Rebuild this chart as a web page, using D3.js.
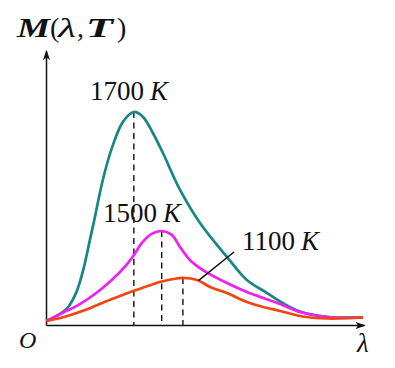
<!DOCTYPE html>
<html>
<head>
<meta charset="utf-8">
<script src="https://cdn.jsdelivr.net/npm/d3@7"></script>
<style>
  body { margin: 0; background: #fff; }
  text { font-family: "Liberation Serif", "Times New Roman", serif; fill: #111; }
</style>
</head>
<body>
<div id="container"></div>
<script>
const width = 395;
const height = 368;

// temperature labels, one per curve
const temps = ["1700", "1500", "1100"];
const colors = ["#168784", "#f21ef2", "#f4450f"];

// [lambda, M] samples
const curve1700 = [
  [0, 1.6], [0.37, 3.75], [0.69, 6.7], [0.95, 12.1], [1.16, 19.8], [1.37, 30.5],
  [1.51, 37.7], [1.79, 52.5], [2.10, 64.5], [2.42, 72.8], [2.76, 76.25], [3.05, 74.5],
  [3.36, 68.75], [3.68, 61.6], [4.22, 48.4], [4.85, 36.6], [5.70, 24.5], [6.33, 16.25],
  [6.97, 11.6], [7.38, 8.6], [8.01, 5.0], [8.86, 3.1], [10, 2.85]
];
const curve1500 = [
  [0, 1.6], [0.48, 4.4], [1.0, 7.3], [1.53, 11.25], [2.06, 16.25], [2.48, 21.0],
  [2.74, 24.8], [3.01, 29.4], [3.32, 32.7], [3.64, 33.75], [3.96, 32.3], [4.22, 28.0],
  [4.53, 23.4], [4.94, 19.8], [5.70, 15.2], [6.33, 12.0], [7.38, 7.7], [8.01, 4.8],
  [8.86, 3.0], [10, 2.85]
];
const curve1100 = [
  [0, 1.6], [0.58, 3.1], [1.22, 5.5], [1.85, 8.5], [2.38, 10.8], [2.74, 12.3],
  [3.22, 14.2], [3.64, 15.7], [4.06, 16.7], [4.31, 17.0], [4.76, 16.25], [5.17, 13.75],
  [5.70, 11.6], [6.33, 8.4], [6.97, 6.25], [7.38, 5.2], [8.01, 3.4], [8.86, 2.5],
  [10, 2.85]
];
const curves = [curve1700, curve1500, curve1100];

const svg = d3.select("#container")
  .append("svg")
  .attr("width", width)
  .attr("height", height);

const x = d3.scaleLinear().domain([0, 10]).range([46.5, 363]);
const y = d3.scaleLinear().domain([0, 100]).range([325.5, 45.5]);

// arrow marker for the axes
svg.append("defs").append("marker")
  .attr("id", "arrow")
  .attr("viewBox", "0 -5 10 10")
  .attr("refX", 9)
  .attr("refY", 0)
  .attr("markerUnits", "userSpaceOnUse")
  .attr("markerWidth", 10)
  .attr("markerHeight", 10)
  .attr("orient", "auto")
  .append("path")
  .attr("d", "M0,-3.6L10,0L0,3.6L2.5,0Z")
  .attr("fill", "#111");

// axes
svg.append("line")
  .attr("x1", x(0)).attr("y1", y(0))
  .attr("x2", x(10.05)).attr("y2", y(0))
  .attr("stroke", "#111").attr("stroke-width", 1.5)
  .attr("marker-end", "url(#arrow)");
svg.append("line")
  .attr("x1", x(0)).attr("y1", y(0))
  .attr("x2", x(0)).attr("y2", y(98))
  .attr("stroke", "#111").attr("stroke-width", 1.5)
  .attr("marker-end", "url(#arrow)");

// dashed lines from each peak down to the axis
const peaks = curves.map(c => d3.greatest(c, d => d[1]));
svg.selectAll(".drop")
  .data(peaks)
  .enter()
  .append("line")
  .attr("class", "drop")
  .attr("x1", d => x(d[0])).attr("x2", d => x(d[0]))
  .attr("y1", d => y(d[1])).attr("y2", y(0))
  .attr("stroke", "#111")
  .attr("stroke-width", 1.4)
  .attr("stroke-dasharray", "6,4.5");

const line = d3.line()
  .x(d => x(d[0]))
  .y(d => y(d[1]))
  .curve(d3.curveCatmullRom.alpha(0.5));

svg.selectAll(".curve")
  .data(curves)
  .enter()
  .append("path")
  .attr("class", "curve")
  .attr("d", line)
  .attr("fill", "none")
  .attr("stroke", (d, i) => colors[i])
  .attr("stroke-width", 2.7)
  .attr("stroke-linejoin", "round");

// temperature labels
const labelPos = [[90, 100], [103, 222], [242, 250]];
temps.forEach((t, i) => {
  const lab = svg.append("text")
    .attr("x", labelPos[i][0])
    .attr("y", labelPos[i][1])
    .attr("font-size", 27);
  lab.append("tspan").text(t);
  lab.append("tspan").attr("dx", 6).attr("font-style", "italic").text("K");
});

// leader line for 1100 K
svg.append("line")
  .attr("x1", x(4.8)).attr("y1", y(16))
  .attr("x2", 234).attr("y2", 252)
  .attr("stroke", "#111")
  .attr("stroke-width", 1.5);

// y axis title M(λ,T), glyph by glyph
const titleParts = [
  { t: "M", x: 17, w: 33, b: true, i: true },
  { t: "(", x: 50, w: 0, b: false, i: false },
  { t: "λ", x: 58, w: 18, b: false, i: true },
  { t: ",", x: 77, w: 0, b: false, i: false },
  { t: "T", x: 86, w: 27, b: true, i: true },
  { t: ")", x: 117, w: 0, b: false, i: false }
];
titleParts.forEach(p => {
  const el = svg.append("text")
    .attr("x", p.x).attr("y", 37)
    .attr("font-size", 28)
    .attr("font-weight", p.b ? "bold" : "normal")
    .attr("font-style", p.i ? "italic" : "normal")
    .text(p.t);
  if (p.w) el.attr("textLength", p.w).attr("lengthAdjust", "spacingAndGlyphs");
});

svg.append("text")
  .attr("x", 19).attr("y", 348)
  .attr("font-size", 24)
  .attr("font-style", "italic")
  .text("O");

svg.append("text")
  .attr("x", 357).attr("y", 352)
  .attr("font-size", 27)
  .attr("font-style", "italic")
  .text("λ");
</script>
</body>
</html>
